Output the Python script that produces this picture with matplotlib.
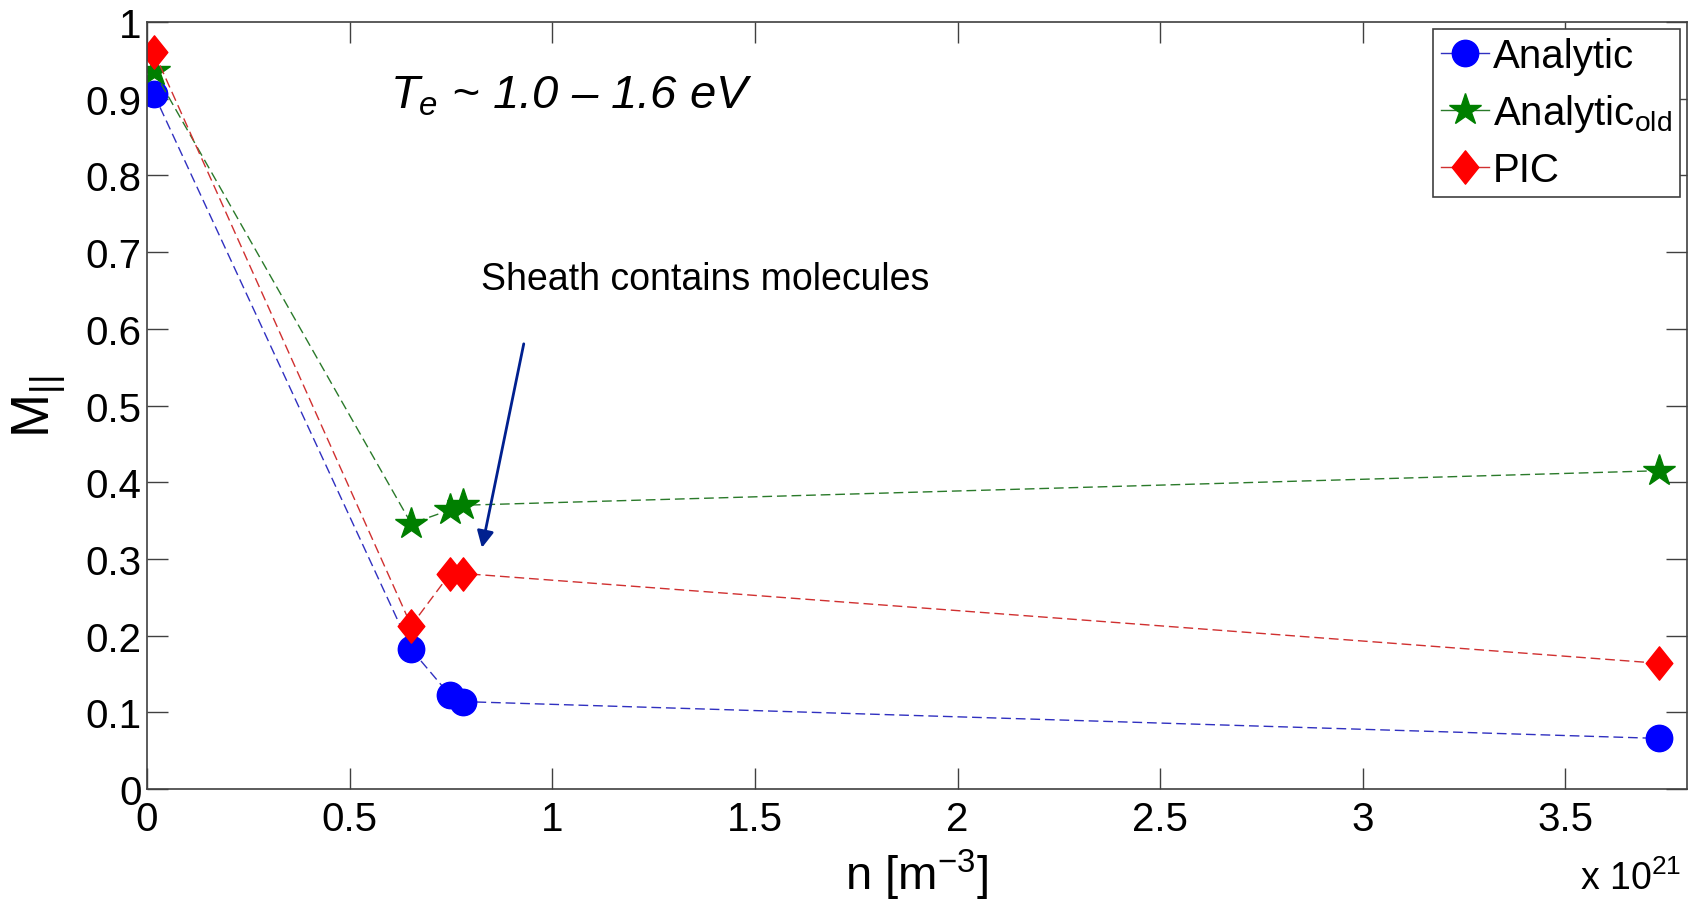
import numpy as np
import matplotlib.pyplot as plt
from matplotlib.path import Path

plt.rcParams['font.family'] = ['Liberation Sans', 'DejaVu Sans']
plt.rcParams['mathtext.fontset'] = 'custom'
plt.rcParams['mathtext.rm'] = 'Liberation Sans'
plt.rcParams['mathtext.it'] = 'Liberation Sans:italic'

# density in units of 1e21 m^-3
n = [0.017, 0.652, 0.748, 0.78, 3.73]
m_analytic = [0.906, 0.182, 0.122, 0.114, 0.066]
m_analytic_old = [0.936, 0.346, 0.364, 0.370, 0.415]
m_pic = [0.961, 0.213, 0.281, 0.281, 0.164]

# MATLAB-like diamond (taller than wide)
diamond = Path([(0, 1), (0.8, 0), (0, -1), (-0.8, 0), (0, 1)],
               [Path.MOVETO, Path.LINETO, Path.LINETO, Path.LINETO,
                Path.CLOSEPOLY])

fig = plt.figure(figsize=(16.88, 9.03), dpi=100)
ax = fig.add_axes([0.0871, 0.1251, 0.9123, 0.8494])

dash = (7, 3.5)
ax.plot(n, m_analytic, '--', dashes=dash, color='#3030c0', lw=1, marker='o',
        ms=19, mfc='#0000ff', mec='#0000ff', label='Analytic')
ax.plot(n, m_analytic_old, '--', dashes=dash, color='#2a7a2a', lw=1,
        marker='*', ms=24, mfc='#007f00', mec='#007f00',
        label=r'Analytic$_{\mathregular{old}}$')
ax.plot(n, m_pic, '--', dashes=dash, color='#d03030', lw=1, marker=diamond,
        ms=24, mfc='#ff0000', mec='#ff0000', label='PIC')

ax.set_xlim(0, 3.8)
ax.set_ylim(0, 1)
ax.set_xticks(np.arange(0, 3.51, 0.5))
ax.set_xticklabels(['0', '0.5', '1', '1.5', '2', '2.5', '3', '3.5'])
ax.set_yticks(np.arange(0, 1.01, 0.1))
ax.set_yticklabels(['0', '0.1', '0.2', '0.3', '0.4', '0.5', '0.6', '0.7',
                    '0.8', '0.9', '1'])
ax.tick_params(direction='in', length=15, width=1, colors='#404040',
               labelcolor='black', labelsize=29, top=True, right=True, pad=4)
ax.tick_params(axis='x', pad=8)
for s in ax.spines.values():
    s.set_color('#404040')
    s.set_linewidth(1.2)

ax.set_xlabel(r'n [m$^{\mathregular{-3}}$]', fontsize=34)
ax.xaxis.set_label_coords(0.5, -0.075)
ax.set_ylabel(r'M$_{\mathregular{||}}$', fontsize=38, va='baseline')
ax.yaxis.set_label_coords(-0.063, 0.5)
fig.text(0.936, 0.0144, r'x 10$^{\mathregular{21}}$', fontsize=27)

ax.text(0.6, 0.904, r'$T_e$ ~ 1.0 – 1.6 eV', fontsize=34, style='italic',
        va='center')
ax.text(0.825, 0.665, 'Sheath contains molecules', fontsize=27, va='center')
ax.annotate('', xy=(0.825, 0.311), xytext=(0.931, 0.584),
            arrowprops=dict(arrowstyle='-|>', color='#00208f', lw=2,
                            mutation_scale=25))

leg = ax.legend(loc='upper right', fontsize=29, handlelength=1.2,
                handletextpad=0.1, borderpad=0.2, labelspacing=0.42,
                fancybox=False, framealpha=1, edgecolor='#404040',
                borderaxespad=0.17)
leg.get_frame().set_linewidth(1.2)
for line in leg.get_lines():
    line.set_linestyle('-')

fig.savefig('out.png', dpi=100)
